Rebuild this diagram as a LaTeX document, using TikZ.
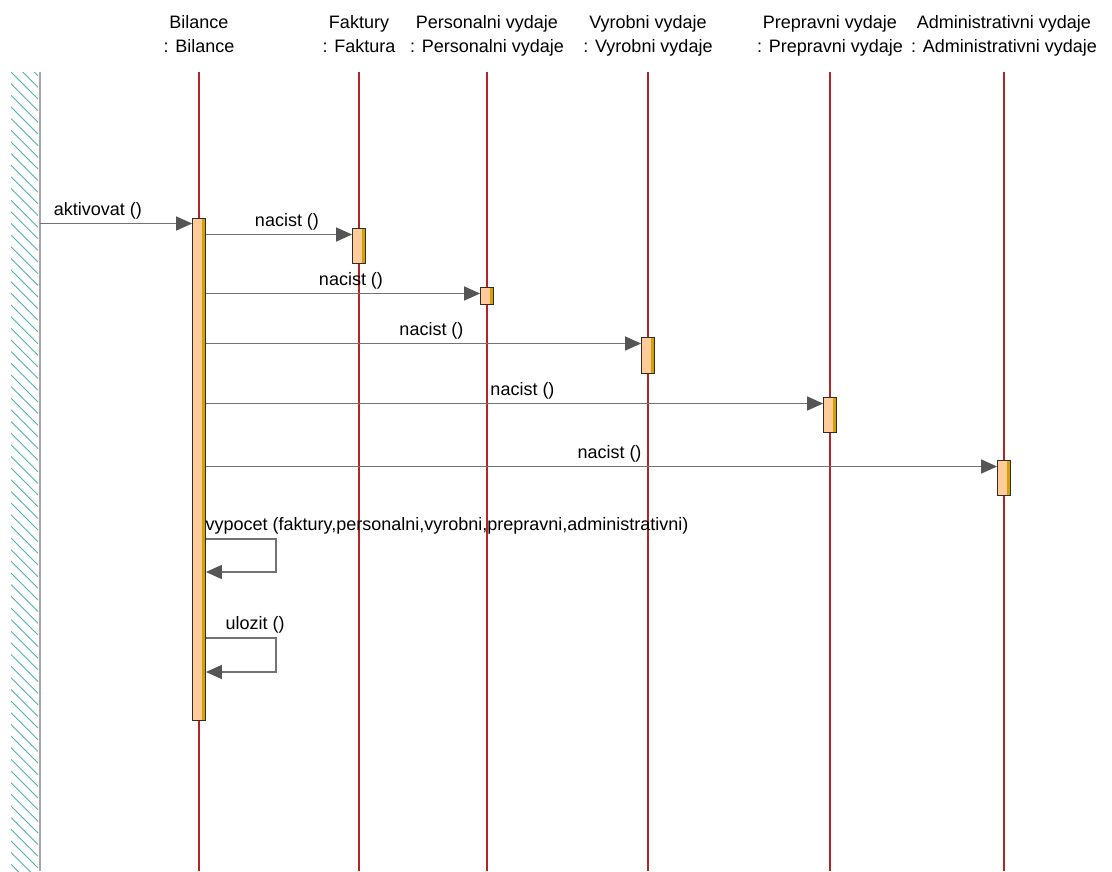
\documentclass[tikz,border=0pt]{standalone}
\usepackage{fontspec}
\setmainfont{Liberation Sans}
\usepackage{tikz}
\usetikzlibrary{arrows.meta}
\definecolor{lifered}{RGB}{180,36,36}
\definecolor{msggray}{RGB}{115,115,115}
\definecolor{tipgray}{RGB}{85,85,85}
\definecolor{actfill}{RGB}{255,204,153}
\definecolor{actgold}{RGB}{214,160,0}
\definecolor{actline}{RGB}{45,45,45}
\definecolor{hatchteal}{RGB}{80,178,178}
\definecolor{bndgray}{RGB}{165,165,170}

\begin{document}
\begin{tikzpicture}[x=1pt, y=-1pt]
    \tikzstyle{head}=[font=\fontsize{18}{24}\selectfont, align=center, inner sep=0pt, anchor=north]
    \tikzstyle{life}=[draw=lifered, line width=1.1pt]
    \tikzstyle{act}=[draw=actline, line width=1.3pt, fill=actfill, minimum width=12.5pt, inner sep=0pt, anchor=north,
      path picture={\fill[actgold] ([xshift=-3.5pt]path picture bounding box.north east) rectangle (path picture bounding box.south east);}]
    \tikzstyle{msg}=[draw=msggray, line width=1.5pt, -{Triangle[length=16pt, width=14pt, color=tipgray, fill=tipgray]}]
    \tikzstyle{lbl}=[font=\fontsize{18}{22}\selectfont, inner sep=4pt]
    \tikzstyle{hatch}=[draw=hatchteal, line width=0.9pt]
    \tikzstyle{bnd}=[draw=bndgray, line width=2.4pt]

    \useasboundingbox (0,0) rectangle (1112,871);

    % system boundary
    \coordinate (bTop) at (40,72);
    \coordinate (bBot) at (40,871);
    \begin{scope}
      \clip (11,72) rectangle (38.5,871);
      \foreach \y in {48.7,60.35,...,880}
        \draw[hatch] (11,\y) -- ++(27,27);
    \end{scope}
    \draw[bnd] (bTop) -- (bBot);

    % objects
    \node[head] (hBil) at (199,15) {Bilance\\: Bilance};
    \node[head] (hFak) at (359,15) {Faktury\\: Faktura};
    \node[head] (hPer) at (487,15) {Personalni vydaje\\: Personalni vydaje};
    \node[head] (hVyr) at (648,15) {Vyrobni vydaje\\: Vyrobni vydaje};
    \node[head] (hPre) at (830,15) {Prepravni vydaje\\: Prepravni vydaje};
    \node[head] (hAdm) at (1004,15) {Administrativni vydaje\\: Administrativni vydaje};
    \foreach \h in {hBil,hFak,hPer,hVyr,hPre,hAdm}
      \draw[life] (\h.south |- bTop) -- (\h.south |- bBot);

    % activations
    \node[act, minimum height=502pt] (aBil) at (hBil.south |- 0,218) {};
    \node[act, minimum height=35pt] (aFak) at (hFak.south |- 0,228) {};
    \node[act, minimum height=17pt] (aPer) at (hPer.south |- 0,287) {};
    \node[act, minimum height=36pt] (aVyr) at (hVyr.south |- 0,337) {};
    \node[act, minimum height=35pt] (aPre) at (hPre.south |- 0,397) {};
    \node[act, minimum height=35pt] (aAdm) at (hAdm.south |- 0,460) {};

    % messages
    \coordinate (m0) at (0,223.5);
    \draw[msg] (bTop |- m0) -- (aBil.west |- m0) node[lbl, above, pos=0.38] {aktivovat ()};
    \foreach \a in {aFak,aPer,aVyr,aPre,aAdm}{
      \path ([yshift=-6.5pt]\a.north west) coordinate (\a-in);
      \draw[msg] (aBil.east |- \a-in) -- (\a-in) node[lbl, above, midway, xshift=8pt] {nacist ()};
    }

    % self calls
    \coordinate (s1) at (0,539);
    \coordinate (s1r) at (0,572);
    \coordinate (s2) at (0,638);
    \coordinate (s2r) at (0,672);
    \draw[msg] (aBil.east |- s1) node[lbl, above right, xshift=-5pt] {vypocet (faktury,personalni,vyrobni,prepravni,administrativni)}
      -- ++(70,0) |- (aBil.east |- s1r);
    \draw[msg] (aBil.east |- s2) node[lbl, above right, xshift=15pt] {ulozit ()}
      -- ++(70,0) |- (aBil.east |- s2r);
\end{tikzpicture}
\end{document}
